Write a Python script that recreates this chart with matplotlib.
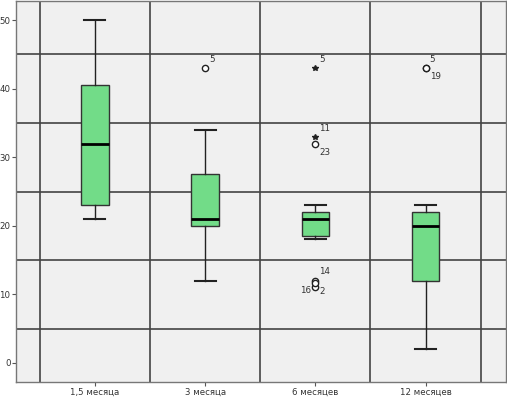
import matplotlib
matplotlib.use('Agg')
import matplotlib.pyplot as plt
from matplotlib.ticker import MultipleLocator, FixedLocator

categories = ['1,5 месяца', '3 месяца', '6 месяцев', '12 месяцев']
whislo = [21, 12, 18, 2]
q1 = [23, 20, 18.5, 12]
med = [32, 21, 21, 20]
q3 = [40.5, 27.5, 22, 22]
whishi = [50, 34, 23, 23]

outlier_group = [2, 3, 3, 3, 3, 3, 3, 4, 4]
outlier_value = [43, 43, 33, 32, 12, 11, 11.6, 43, 43]
outlier_kind = ['o', '*', '*', 'o', 'o', 'o', 'o', 'o', 'o']
outlier_label = ['5', '5', '11', '23', '14', '16', '2', '5', '19']
label_side = ['ur', 'ur', 'ur', 'lr', 'ur', 'l', 'lr', 'ur', 'lr']

fig = plt.figure(figsize=(5.07, 3.99), dpi=100)
ax = fig.add_axes([16/507, 17/399, 490/507, 381/399])
ax.set_facecolor('#f0f0f0')

stats = []
for i in range(len(categories)):
    stats.append(dict(whislo=whislo[i], q1=q1[i], med=med[i], q3=q3[i],
                      whishi=whishi[i], fliers=[], label=categories[i]))

ax.bxp(stats, positions=range(1, len(categories) + 1), widths=0.25,
       patch_artist=True, showfliers=False,
       boxprops=dict(facecolor='#72dc88', edgecolor='#333333', linewidth=1.0),
       medianprops=dict(color='black', linewidth=2.0),
       whiskerprops=dict(color='#222222', linewidth=1.0),
       capprops=dict(color='#222222', linewidth=1.5), capwidths=0.19,
       zorder=3)

offsets = {'ur': (3, 3, 'left', 'bottom'), 'lr': (3, -3, 'left', 'top'),
           'l': (-3, -2, 'right', 'center')}
for g, v, k, lab, side in zip(outlier_group, outlier_value, outlier_kind,
                              outlier_label, label_side):
    if k == 'o':
        ax.plot(g, v, 'o', ms=4.5, mfc='white', mec='#222222', mew=1.0, zorder=4)
    else:
        ax.plot(g, v, '*', ms=3.8, color='#222222', zorder=4)
    dx, dy, ha, va = offsets[side]
    ax.annotate(lab, (g, v), xytext=(dx, dy), textcoords='offset points',
                ha=ha, va=va, fontsize=6.3, color='#333333', zorder=5)

ax.set_xlim(0.284, 4.73)
ax.set_ylim(-2.8, 52.8)
ax.yaxis.set_major_locator(MultipleLocator(10))
ax.yaxis.set_minor_locator(FixedLocator([5, 15, 25, 35, 45]))
ax.xaxis.set_minor_locator(FixedLocator([0.5, 1.5, 2.5, 3.5, 4.5]))
ax.set_xticks(range(1, len(categories) + 1))
ax.set_xticklabels(categories)
ax.grid(which='minor', color='#444444', linewidth=1.2, zorder=1)
ax.grid(which='major', visible=False)
ax.set_axisbelow(True)
ax.tick_params(which='major', length=3, width=0.8, color='#555555',
               labelsize=6.2, labelcolor='#333333', pad=1)
ax.tick_params(which='minor', length=0)
for s in ax.spines.values():
    s.set_color('#777777')
    s.set_linewidth(1.0)

fig.savefig('out.png', dpi=100, facecolor='white')
